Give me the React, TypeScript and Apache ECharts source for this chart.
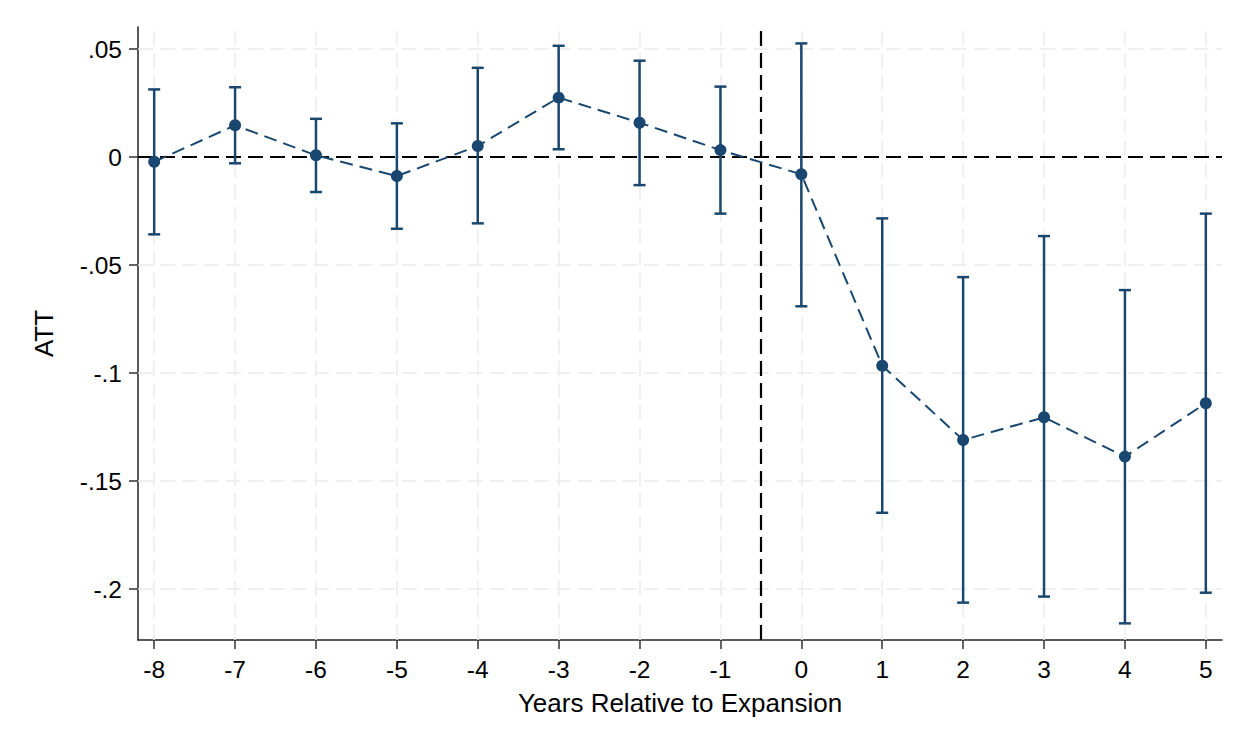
import React, { useEffect, useRef } from "react";
import * as echarts from "echarts";

const years = [-8, -7, -6, -5, -4, -3, -2, -1, 0, 1, 2, 3, 4, 5];
const att = [-0.0022, 0.0147, 0.0008, -0.0088, 0.0051, 0.0275, 0.0159, 0.0032, -0.008, -0.0966, -0.131, -0.1205, -0.1387, -0.114];
const ciHigh = [0.0313, 0.0323, 0.0177, 0.0156, 0.0413, 0.0515, 0.0446, 0.0326, 0.0526, -0.0284, -0.0556, -0.0366, -0.0616, -0.0262];
const ciLow = [-0.0358, -0.0029, -0.0162, -0.0332, -0.0307, 0.0036, -0.013, -0.0262, -0.0691, -0.1647, -0.2063, -0.2035, -0.2159, -0.2017];
const yTickValues = [-0.2, -0.15, -0.1, -0.05, 0, 0.05];
const yTickLabels = ["-.2", "-.15", "-.1", "-.05", "0", ".05"];
const treatmentLine = -0.5;

const NAVY = "#1a476f";
const FONT = "'Liberation Sans', Arial, sans-serif";

export default function App() {
  const ref = useRef<HTMLDivElement>(null);
  useEffect(() => {
    const chart = echarts.init(ref.current!, null, { renderer: "svg" });
    const fmtY = (v: number) => {
      let best = 0;
      yTickValues.forEach((t, i) => {
        if (Math.abs(t - v) < Math.abs(yTickValues[best] - v)) best = i;
      });
      return yTickLabels[best];
    };
    chart.setOption({
      animation: false,
      backgroundColor: "#ffffff",
      grid: { left: 138, right: 28, top: 27, bottom: 110, containLabel: false },
      xAxis: {
        type: "value",
        min: -8.2,
        max: 5.2,
        name: "Years Relative to Expansion",
        nameLocation: "middle",
        nameGap: 50,
        nameTextStyle: { color: "#000", fontSize: 26, fontFamily: FONT },
        axisLine: { show: true, onZero: false, lineStyle: { color: "#222", width: 1.5 } },
        axisTick: { show: true, length: 9, customValues: years, lineStyle: { color: "#333", width: 1.5 } },
        axisLabel: { customValues: years, color: "#000", fontSize: 24.5, fontFamily: FONT, margin: 17, formatter: (v: number) => String(v) },
        splitLine: { show: false },
      },
      yAxis: {
        type: "value",
        min: -0.2236,
        max: 0.0602,
        name: "ATT",
        nameLocation: "middle",
        nameRotate: 90,
        nameGap: 81,
        nameTextStyle: { color: "#000", fontSize: 26, fontFamily: FONT },
        axisLine: { show: true, onZero: false, lineStyle: { color: "#222", width: 1.5 } },
        axisTick: { show: true, length: 9, customValues: yTickValues, lineStyle: { color: "#333", width: 1.5 } },
        axisLabel: { customValues: yTickValues, color: "#000", fontSize: 24.5, fontFamily: FONT, margin: 16, formatter: fmtY },
        splitLine: { show: false },
      },
      series: [
        {
          type: "line",
          data: [],
          silent: true,
          z: 1,
          markLine: {
            z: 1,
            silent: true,
            symbol: ["none", "none"],
            label: { show: false },
            lineStyle: { color: "#ebebeb", type: [15, 7], width: 1.5 },
            data: [
              ...yTickValues.map((v) => ({ yAxis: v })),
              ...years.map((v) => ({ xAxis: v })),
            ],
          },
        },
        {
          type: "line",
          data: [],
          silent: true,
          z: 2,
          markLine: {
            z: 2,
            silent: true,
            symbol: ["none", "none"],
            label: { show: false },
            lineStyle: { color: "#000", type: [15, 7], width: 2.2 },
            data: [{ yAxis: 0 }, { xAxis: treatmentLine }],
          },
        },
        {
          type: "custom",
          z: 3,
          silent: true,
          data: years.map((y, i) => [y, ciLow[i], ciHigh[i]]),
          renderItem: (params: any, api: any) => {
            const x = api.value(0);
            const lo = api.coord([x, api.value(1)]);
            const hi = api.coord([x, api.value(2)]);
            const w = 6;
            const st = { stroke: NAVY, lineWidth: 2.5 };
            return {
              type: "group",
              children: [
                { type: "line", shape: { x1: lo[0], y1: lo[1], x2: hi[0], y2: hi[1] }, style: st },
                { type: "line", shape: { x1: lo[0] - w, y1: lo[1], x2: lo[0] + w, y2: lo[1] }, style: st },
                { type: "line", shape: { x1: hi[0] - w, y1: hi[1], x2: hi[0] + w, y2: hi[1] }, style: st },
              ],
            };
          },
        },
        {
          type: "line",
          z: 4,
          data: years.map((y, i) => [y, att[i]]),
          symbol: "circle",
          symbolSize: 12,
          itemStyle: { color: NAVY },
          lineStyle: { color: NAVY, width: 2, type: [13, 7] },
        },
      ],
    });
    return () => chart.dispose();
  }, []);
  return (
    <div
      ref={ref}
      style={{ position: "absolute", left: 0, top: 0, width: 1250, height: 750, background: "#fff" }}
    />
  );
}
